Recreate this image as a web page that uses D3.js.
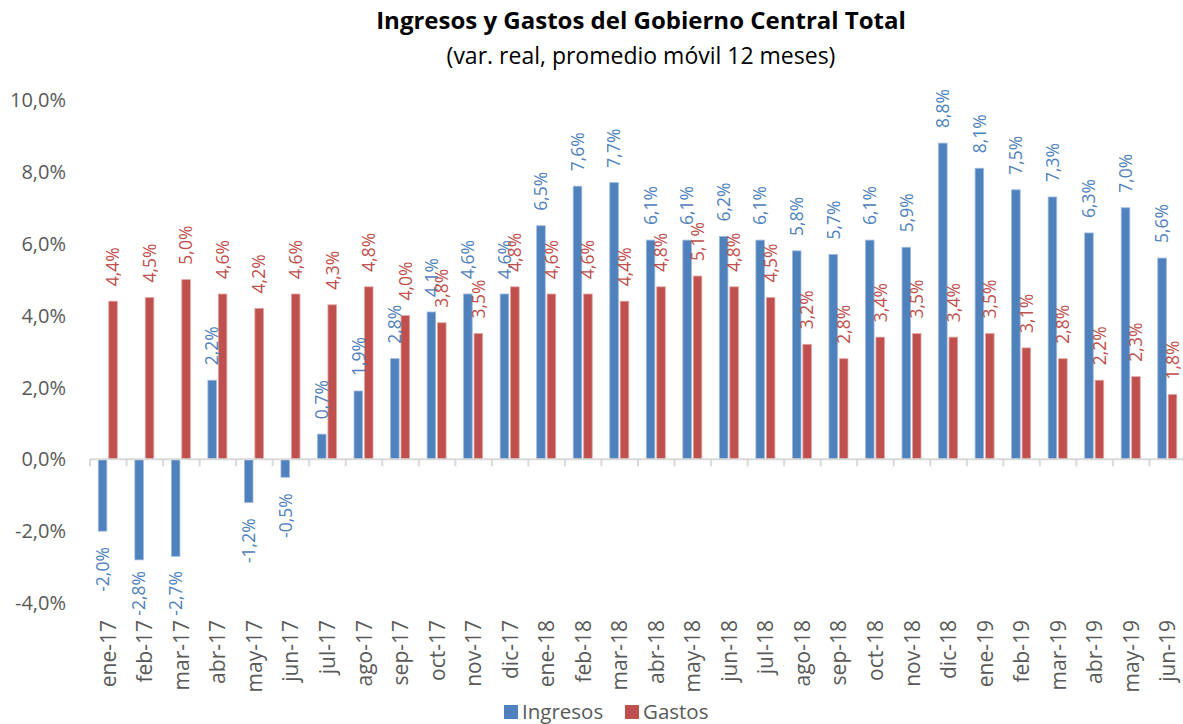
<!DOCTYPE html>
<html>
<head>
<meta charset="utf-8">
<script src="https://cdn.jsdelivr.net/npm/d3@7"></script>
<style>
  body { margin: 0; background: #fff; }
  text { font-family: "Open Sans", "Noto Sans", sans-serif; }
</style>
</head>
<body>
<div id="chart"></div>
<script>
// data
var months = ["ene-17","feb-17","mar-17","abr-17","may-17","jun-17","jul-17","ago-17","sep-17","oct-17","nov-17","dic-17",
              "ene-18","feb-18","mar-18","abr-18","may-18","jun-18","jul-18","ago-18","sep-18","oct-18","nov-18","dic-18",
              "ene-19","feb-19","mar-19","abr-19","may-19","jun-19"];
var ingresos = [-2.0,-2.8,-2.7,2.2,-1.2,-0.5,0.7,1.9,2.8,4.1,4.6,4.6,
                6.5,7.6,7.7,6.1,6.1,6.2,6.1,5.8,5.7,6.1,5.9,8.8,
                8.1,7.5,7.3,6.3,7.0,5.6];
var gastos = [4.4,4.5,5.0,4.6,4.2,4.6,4.3,4.8,4.0,3.8,3.5,4.8,
              4.6,4.6,4.4,4.8,5.1,4.8,4.5,3.2,2.8,3.4,3.5,3.4,
              3.5,3.1,2.8,2.2,2.3,1.8];
var seriesNames = ["Ingresos","Gastos"];
var yTicks = [-4,-2,0,2,4,6,8,10];

var colors = {Ingresos: "#4F81BD", Gastos: "#C0504D"};
var strokes = {Ingresos: "#9DB9DE", Gastos: "#E0A5A3"};

var width = 1183, height = 724;
var svg = d3.select("#chart").append("svg")
    .attr("width", width)
    .attr("height", height);

// excel style: comma decimal, plain hyphen for minus
var fmt = function (v) { return d3.format(".1f")(v).replace(".", ",").replace("\u2212", "-") + "%"; };

// scales
var x0 = d3.scaleBand()
    .domain(months)
    .range([90, 1186]);

var x1 = d3.scaleBand()
    .domain(seriesNames)
    .range([8.3, 27.3])
    .paddingInner(0.18);

var y = d3.scaleLinear()
    .domain([-4, 10])
    .range([603, 100]);

// title
svg.append("text")
    .attr("x", 641).attr("y", 29)
    .attr("text-anchor", "middle")
    .style("font-size", "24px")
    .style("font-weight", "bold")
    .style("fill", "#000")
    .text("Ingresos y Gastos del Gobierno Central Total");
svg.append("text")
    .attr("x", 641).attr("y", 64)
    .attr("text-anchor", "middle")
    .style("font-size", "23px")
    .style("fill", "#000")
    .text("(var. real, promedio móvil 12 meses)");

// y axis labels (no line)
svg.append("g").selectAll("text")
    .data(yTicks)
    .enter().append("text")
      .attr("x", 66)
      .attr("y", function (d) { return y(d); })
      .attr("dy", "0.36em")
      .attr("text-anchor", "end")
      .style("font-size", "20px")
      .style("fill", "#595959")
      .text(function (d) { return fmt(d); });

// bars
var rows = months.map(function (m, i) {
  return {month: m, values: [
    {key: "Ingresos", value: ingresos[i]},
    {key: "Gastos", value: gastos[i]}
  ]};
});

var groups = svg.append("g").selectAll("g")
    .data(rows)
    .enter().append("g")
      .attr("transform", function (d) { return "translate(" + x0(d.month) + ",0)"; });

groups.selectAll("rect")
    .data(function (d) { return d.values; })
    .enter().append("rect")
      .attr("x", function (d) { return x1(d.key); })
      .attr("width", x1.bandwidth())
      .attr("y", function (d) { return y(Math.max(0, d.value)); })
      .attr("height", function (d) { return Math.abs(y(d.value) - y(0)); })
      .style("fill", function (d) { return colors[d.key]; })
      .style("stroke", function (d) { return strokes[d.key]; })
      .style("stroke-width", 0.8);

// zero axis with ticks at category boundaries
var axisG = svg.append("g").attr("transform", "translate(0," + y(0) + ")");
axisG.append("line")
    .attr("x1", x0.range()[0]).attr("x2", x0.range()[1])
    .style("stroke", "#D9D9D9").style("stroke-width", 2);
axisG.selectAll("line.tick")
    .data(months.concat(["end"]))
    .enter().append("line")
      .attr("class", "tick")
      .attr("x1", function (d, i) { return x0.range()[0] + i * x0.step(); })
      .attr("x2", function (d, i) { return x0.range()[0] + i * x0.step(); })
      .attr("y1", 0).attr("y2", 7)
      .style("stroke", "#D9D9D9").style("stroke-width", 2);

// data labels (negative ones kept inside the plot area, like excel does)
groups.selectAll("text")
    .data(function (d) { return d.values; })
    .enter().append("text")
      .attr("transform", function (d) {
        var cx = x1(d.key) + x1.bandwidth() / 2;
        var yy = d.value >= 0 ? y(d.value) - 15 : Math.min(y(d.value) + 16, 571);
        return "translate(" + cx + "," + yy + ") rotate(-90)";
      })
      .attr("dy", "0.36em")
      .attr("text-anchor", function (d) { return d.value >= 0 ? "start" : "end"; })
      .style("font-size", "17.5px")
      .style("fill", function (d) { return colors[d.key]; })
      .text(function (d) { return fmt(d.value); });

// x labels at bottom
svg.append("g").selectAll("text")
    .data(months)
    .enter().append("text")
      .attr("transform", function (d) {
        return "translate(" + (x0(d) + x0.bandwidth() / 2) + ",620) rotate(-90)";
      })
      .attr("dy", "0.36em")
      .attr("text-anchor", "end")
      .style("font-size", "21px")
      .style("fill", "#595959")
      .text(function (d) { return d; });

// legend
var legend = svg.append("g").attr("transform", "translate(504,705)");
var legendX = [0, 121];
seriesNames.forEach(function (s, i) {
  legend.append("rect")
      .attr("x", legendX[i]).attr("y", 0)
      .attr("width", 14).attr("height", 14)
      .style("fill", colors[s]);
  legend.append("text")
      .attr("x", legendX[i] + 18).attr("y", 7)
      .attr("dy", "0.36em")
      .style("font-size", "20.5px")
      .style("fill", "#595959")
      .text(s);
});
</script>
</body>
</html>
